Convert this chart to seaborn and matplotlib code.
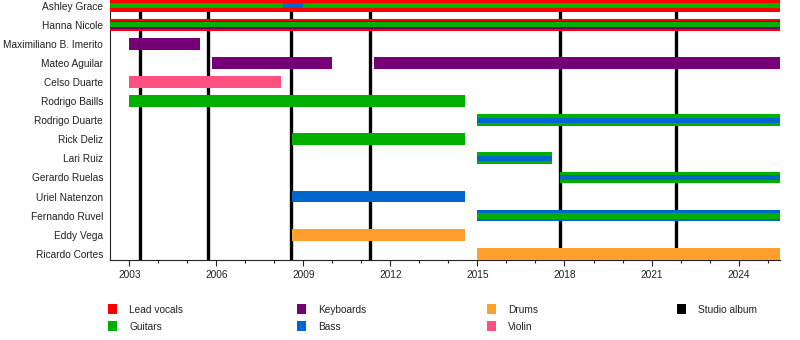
import matplotlib
matplotlib.use("Agg")
import matplotlib.pyplot as plt
import seaborn as sns
from matplotlib.patches import Patch
from matplotlib.ticker import MultipleLocator

# ---------------- data ----------------
members = ["Ashley Grace", "Hanna Nicole", "Maximiliano B. Imerito", "Mateo Aguilar",
           "Celso Duarte", "Rodrigo Baills", "Rodrigo Duarte", "Rick Deliz", "Lari Ruiz",
           "Gerardo Ruelas", "Uriel Natenzon", "Fernando Ruvel", "Eddy Vega", "Ricardo Cortes"]

START = 2002.33
END = 2025.43

vocals_who = ["Ashley Grace", "Hanna Nicole"]
vocals_from = [START, START]
vocals_to = [END, END]

guitars_who = ["Ashley Grace", "Hanna Nicole", "Rodrigo Baills", "Rodrigo Duarte",
               "Rick Deliz", "Lari Ruiz", "Gerardo Ruelas", "Fernando Ruvel"]
guitars_from = [START, START, 2003.0, 2015.0, 2008.6, 2015.0, 2017.84, 2015.0]
guitars_to = [END, END, 2014.57, END, 2014.57, 2017.57, END, END]

keyboards_who = ["Hanna Nicole", "Maximiliano B. Imerito", "Mateo Aguilar", "Mateo Aguilar"]
keyboards_from = [START, 2003.0, 2005.84, 2011.43]
keyboards_to = [END, 2005.43, 2010.0, END]

bass_who = ["Ashley Grace", "Rodrigo Duarte", "Lari Ruiz", "Gerardo Ruelas",
            "Uriel Natenzon", "Fernando Ruvel"]
bass_from = [2008.3, 2015.0, 2015.0, 2017.84, 2008.6, 2015.0]
bass_to = [2009.0, END, 2017.57, END, 2014.57, END]

drums_who = ["Eddy Vega", "Ricardo Cortes"]
drums_from = [2008.6, 2015.0]
drums_to = [2014.57, END]

violin_who = ["Celso Duarte"]
violin_from = [2003.0]
violin_to = [2008.22]

albums = [2003.36, 2005.7, 2008.56, 2011.3, 2017.85, 2021.86]

major_ticks = [2003, 2006, 2009, 2012, 2015, 2018, 2021, 2024]

# ---------------- style ----------------
colors = {
    "Lead vocals": "#FF0000",
    "Guitars": "#00B000",
    "Keyboards": "#750075",
    "Bass": "#0066CC",
    "Drums": "#FFA02E",
    "Violin": "#FF5082",
    "Studio album": "#000000",
}
FULL = 0.62
heights = {
    ("Guitars", "Ashley Grace"): 0.27,
    ("Bass", "Ashley Grace"): 0.27,
    ("Keyboards", "Hanna Nicole"): 0.45,
    ("Guitars", "Hanna Nicole"): 0.26,
    ("Bass", "Rodrigo Duarte"): 0.25,
    ("Bass", "Lari Ruiz"): 0.25,
    ("Bass", "Gerardo Ruelas"): 0.25,
    ("Guitars", "Fernando Ruvel"): 0.32,
}

sns.set_theme(style="ticks")
plt.rcParams["font.family"] = ["Liberation Sans", "DejaVu Sans"]

fig = plt.figure(figsize=(8, 3.4), dpi=100)
ax = fig.add_axes([110 / 800, 1 - 260 / 340, 670 / 800, 260 / 340])

roles = [
    ("Lead vocals", vocals_who, vocals_from, vocals_to),
    ("Guitars", guitars_who, guitars_from, guitars_to),
    ("Keyboards", keyboards_who, keyboards_from, keyboards_to),
    ("Bass", bass_who, bass_from, bass_to),
    ("Drums", drums_who, drums_from, drums_to),
    ("Violin", violin_who, violin_from, violin_to),
]

segments = []
for order, (role, who, starts, ends) in enumerate(roles):
    for m, s, e in zip(who, starts, ends):
        h = heights.get((role, m), FULL)
        segments.append((-h, order, role, m, s, e, h))
segments.sort(key=lambda t: (t[0], t[1]))

for _, _, role, m, s, e, h in segments:
    ax.barh(members.index(m), e - s, left=s, height=h, color=colors[role],
            edgecolor="none", linewidth=0, zorder=3)

for a in albums:
    ax.axvline(a, color="black", lw=2.4, zorder=2)

ax.set_xlim(START, END)
ax.set_ylim(len(members) - 1 + 0.33, -0.31)
ax.set_yticks(range(len(members)))
ax.set_yticklabels(members)
ax.set_xticks(major_ticks)
ax.set_xticklabels([str(t) for t in major_ticks])
ax.xaxis.set_minor_locator(MultipleLocator(1))
ax.tick_params(axis="y", length=0, pad=5, labelsize=7.3, colors="#222222")
ax.tick_params(axis="x", which="major", length=4, width=0.8, pad=3, labelsize=7.3,
               color="#222222", labelcolor="#222222")
ax.tick_params(axis="x", which="minor", length=2.5, width=0.8, color="#222222")
ax.grid(False)
ax.set_facecolor("white")
sns.despine(ax=ax, top=True, right=True)
for sp in ["left", "bottom"]:
    ax.spines[sp].set_color("#222222")
    ax.spines[sp].set_linewidth(0.8)

# legend in four columns
legend_cols = [
    (108, ["Lead vocals", "Guitars"]),
    (297, ["Keyboards", "Bass"]),
    (487, ["Drums", "Violin"]),
    (677, ["Studio album"]),
]
for x, labels in legend_cols:
    handles = [Patch(facecolor=colors[l], edgecolor="none", label=l) for l in labels]
    fig.legend(handles=handles, loc="upper left",
               bbox_to_anchor=(x / 800, 1 - 304 / 340), frameon=False,
               borderpad=0, borderaxespad=0, handlelength=0.85, handleheight=1.2,
               handletextpad=1.25, labelspacing=0.62, fontsize=7.3,
               labelcolor="#222222")

fig.savefig("out.png", dpi=100, facecolor="white")
